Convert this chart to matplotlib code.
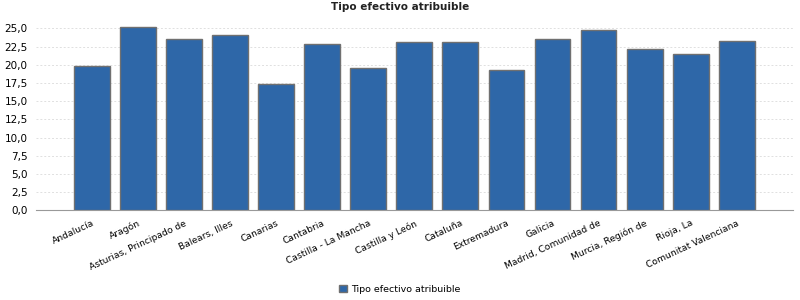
import matplotlib.pyplot as plt
from matplotlib.ticker import FuncFormatter

regiones = ["Andalucía", "Aragón", "Asturias, Principado de", "Balears, Illes",
            "Canarias", "Cantabria", "Castilla - La Mancha", "Castilla y León",
            "Cataluña", "Extremadura", "Galicia", "Madrid, Comunidad de",
            "Murcia, Región de", "Rioja, La", "Comunitat Valenciana"]
tipo = [19.8, 25.2, 23.5, 24.1, 17.3, 22.9, 19.5, 23.1,
        23.1, 19.3, 23.5, 24.8, 22.2, 21.5, 23.3]
serie = "Tipo efectivo atribuible"

fig = plt.figure(figsize=(8, 3), dpi=100)
ax = fig.add_axes([0.045, 0.299, 0.946, 0.628])

x = range(len(regiones))
ax.bar(x, tipo, width=0.78, color="#2e67a8", edgecolor="#707070", linewidth=1,
       label=serie, zorder=3)

ax.set_xlim(-1.22, len(regiones) - 1 + 1.22)
ax.set_ylim(0, 25.9)
ax.set_yticks([i * 2.5 for i in range(11)])
ax.yaxis.set_major_formatter(FuncFormatter(lambda v, p: f"{v:.1f}".replace(".", ",")))
ax.grid(axis="y", color="#e0e0e0", linestyle=(0, (2, 2)), linewidth=0.7, zorder=0)

ax.set_xticks(list(x))
ax.set_xticklabels(regiones, rotation=25, ha="right", rotation_mode="anchor", fontsize=6.6)
ax.tick_params(axis="x", length=0, pad=6)
ax.tick_params(axis="y", length=0, labelsize=7.5, pad=6)

for s in ["top", "right", "left"]:
    ax.spines[s].set_visible(False)
ax.spines["bottom"].set_color("#999999")

fig.text(0.5, 0.975, serie, ha="center", va="center", fontsize=7.5, fontweight="bold", color="#222222")
fig.legend(loc="center", bbox_to_anchor=(0.5, 0.035), frameon=False, fontsize=6.8,
           handlelength=0.8, handleheight=0.8, handletextpad=0.5)

plt.savefig("out.png")
